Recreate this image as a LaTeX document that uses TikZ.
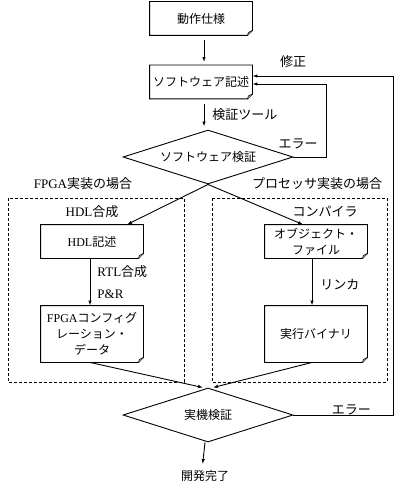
\documentclass[tikz,border=0pt]{standalone}
\usepackage{fontspec}
\setmainfont{Liberation Serif}
\newfontfamily\jpfont{Noto Sans CJK JP}
\usetikzlibrary{arrows.meta,calc,shapes.geometric}

\tikzset{
  every node/.style={font=\jpfont\fontsize{12}{16}\selectfont, inner sep=0pt},
  docbox/.style={minimum width=102pt, minimum height=33pt, align=center},
  tallbox/.style={docbox, minimum height=56pt},
  checkbox/.style={diamond, draw, aspect=3, minimum width=170pt, minimum height=54pt},
  lbl/.style={font=\jpfont\fontsize{13}{15}\selectfont},
  arr/.style={-{Latex[length=5pt,width=3.5pt]}},
  area/.style={dash pattern=on 3pt off 2pt},
}
\newcommand\lat[1]{{\rmfamily #1}}

\begin{document}
\begin{tikzpicture}[x=1pt, y=-1pt, line width=0.9pt]
		\useasboundingbox (0,0) rectangle (401,486);
		
		% flow boxes
		\node[docbox] (spec) at (201,18.5) {動作仕様};
		\node[docbox] (swdesc) at (201,82) {ソフトウェア記述};
		\node[checkbox] (swcheck) at (208,157) {ソフトウェア検証};
		\node[docbox] (hdl) at (92,241.5) {\lat{HDL}記述};
		\node[docbox] (obj) at (316,241.5) {オブジェクト・\\ファイル};
		\node[tallbox] (fpgadata) at (92,334) {\lat{FPGA}コンフィグ\\レーション・\\データ};
		\node[tallbox] (bin) at (316,334) {実行バイナリ};
		\node[checkbox] (hwcheck) at (208,415) {実機検証};
		\node (done) at (205,476) {開発完了};
		
		% document outlines with folded corner
		\foreach \n in {spec,swdesc,hdl,obj,fpgadata,bin} {
			\draw (\n.north west) -- (\n.north east) -- ($(\n.south east)+(0,-5)$)
				-- ($(\n.south east)+(-5,0)$) -- (\n.south west) -- cycle;
			\draw[fill=black!20, line width=0.6pt] ($(\n.south east)+(0,-5)$)
				-- ($(\n.south east)+(-4,-3)$) -- ($(\n.south east)+(-5,0)$);
		}
		
		% implementation areas
		\draw[area] (8,198) rectangle (184,382);
		\draw[area] (212,198) rectangle (387,382);
		\node[lbl] (fpgahead) at (83,184) {\lat{FPGA}実装の場合};
		\node[lbl] (prochead) at (317,184) {プロセッサ実装の場合};
		\node[lbl] (hdlsyn) at (92,212) {\lat{HDL}合成};
		\node[lbl] (compiler) at (325,212) {コンパイラ};
		
		% connectors
		\draw[arr, shorten <=5pt, shorten >=3pt] ([xshift=3pt]spec.south) -- ([xshift=3pt]swdesc.north);
		\draw[arr, shorten <=5pt, shorten >=3pt] ([xshift=3pt]swdesc.south)
			-- node[lbl, anchor=west, xshift=8pt]{検証ツール} ([xshift=-4pt]swcheck.north);
		\draw[arr] (swcheck.south) -- ([xshift=35pt]hdl.north);
		\draw[arr] (swcheck.south) -- ([xshift=-13pt]obj.north);
		\draw[arr] ([xshift=-2pt]hdl.south)
			-- node[lbl, pos=0.29, anchor=west, xshift=7pt]{\lat{RTL}合成}
			node[lbl, pos=0.75, anchor=west, xshift=7pt]{\lat{P\&R}} ([xshift=-2pt]fpgadata.north);
		\draw[arr] ([xshift=-4pt]obj.south)
			-- node[lbl, pos=0.56, anchor=west, xshift=8pt]{リンカ} ([xshift=-4pt]bin.north);
		\draw[arr] ([xshift=-2pt]fpgadata.south) -- ([xshift=-5pt]hwcheck.north);
		\draw[arr] ([xshift=-4pt]bin.south) -- ([xshift=5pt]hwcheck.north);
		\draw[arr, shorten >=6pt] ([xshift=-3pt]hwcheck.south) -- ([xshift=-3pt]done.north);
		
		% error loops
		\draw[arr] (swcheck.east) -- ++(33,0) |- ([yshift=-2pt]swdesc.east);
		\node[lbl] (swerr) at (298,144) {エラー};
		\draw[arr] (hwcheck.east) -- node[lbl, above, pos=0.58]{エラー} ++(100,0) |- ([yshift=6pt]swdesc.east);
		\node[lbl] (fixlbl) at (293,62) {修正};
		
	\end{tikzpicture}
\end{document}
